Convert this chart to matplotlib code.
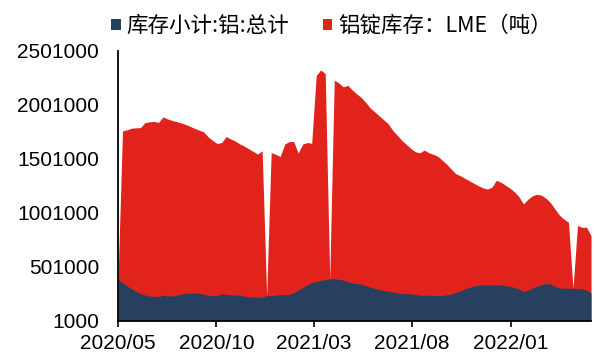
import numpy as np
import pandas as pd
import matplotlib
matplotlib.use("Agg")
import matplotlib.pyplot as plt
from matplotlib.patches import Patch
from matplotlib.font_manager import FontProperties

# Weekly observations
dates = pd.date_range("2020-05-01", periods=106, freq="7D")

# 库存小计:铝:总计 (tonnes)
china_total = [
    381000, 353000, 320000, 297000, 270000, 251000, 237000, 228000, 226000, 223000,
    237000, 228000, 228000, 237000, 246000, 253000, 254000, 256000, 254000, 246000,
    234000, 232000, 232000, 248000, 244000, 240000, 237000, 237000, 228000, 220000,
    217000, 217000, 217000, 232000, 231000, 237000, 239000, 242000, 242000, 260000,
    283000, 307000, 334000, 353000, 362000, 373000, 381000, 387000, 390000, 382000,
    376000, 362000, 348000, 344000, 339000, 325000, 311000, 297000, 288000, 279000,
    274000, 265000, 256000, 251000, 249000, 248000, 242000, 237000, 234000, 237000,
    232000, 232000, 234000, 239000, 248000, 260000, 276000, 295000, 308000, 320000,
    327000, 334000, 332000, 332000, 332000, 330000, 325000, 318000, 307000, 293000,
    270000, 283000, 302000, 320000, 334000, 344000, 339000, 316000, 302000, 302000,
    300000, 299000, 297000, 295000, 283000, 256000,
]

# 铝锭库存：LME (tonnes); NaN where no value was published
nan = float("nan")
lme_stock = [
    nan, 1407000, 1450000, 1488000, 1518000, 1540000, 1600000, 1616000, 1622000, 1616000,
    1653000, 1643000, 1629000, 1609000, 1588000, 1567000, 1548000, 1527000, 1513000, 1505000,
    1471000, 1440000, 1411000, 1404000, 1463000, 1446000, 1429000, 1403000, 1391000, 1374000,
    1353000, 1328000, 1358000, nan, 1328000, 1306000, 1283000, 1395000, 1419000, 1401000,
    1271000, 1330000, 1318000, 1292000, 1912000, 1952000, 1910000, nan, 1840000, 1823000,
    1792000, 1821000, 1792000, 1759000, 1731000, 1699000, 1662000, 1639000, 1611000, 1583000,
    1551000, 1500000, 1463000, 1421000, 1386000, 1350000, 1324000, 1320000, 1348000, 1320000,
    1311000, 1292000, 1253000, 1211000, 1156000, 1102000, 1068000, 1025000, 989000, 954000,
    924000, 898000, 888000, 905000, 970000, 953000, 931000, 910000, 888000, 856000,
    812000, 843000, 856000, 852000, 829000, 791000, 755000, 719000, 676000, 639000,
    613000, nan, 584000, 570000, 584000, 532000,
]

series_labels = ["库存小计:铝:总计", "铝锭库存：LME（吨）"]
y_ticks = [1000, 501000, 1001000, 1501000, 2001000, 2501000]
x_ticks = ["2020-05-01", "2020-10-01", "2021-03-01", "2021-08-01", "2022-01-01"]

navy = "#27405F"
red = "#E2231B"

latin = ["Liberation Sans", "DejaVu Sans"]
cjk = ["Noto Sans CJK SC", "DejaVu Sans"]

bottom = np.array(china_total, dtype=float)
top = bottom + np.nan_to_num(np.array(lme_stock, dtype=float))

fig = plt.figure(figsize=(5.94, 3.56), dpi=100)
ax = fig.add_axes([118 / 594, (356 - 320.5) / 356, (591 - 118) / 594, (320.5 - 51) / 356])

ax.fill_between(dates, 0, top, color=red, linewidth=0)
ax.fill_between(dates, 0, bottom, color=navy, linewidth=0)

ax.set_xlim(dates[0], dates[-1])
ax.set_ylim(y_ticks[0], y_ticks[-1])

ax.set_yticks(y_ticks)
ax.set_yticklabels([str(v) for v in y_ticks], fontfamily=latin, fontsize=15)
xt = pd.to_datetime(x_ticks)
ax.set_xticks(xt)
ax.set_xticklabels([d.strftime("%Y/%m") for d in xt], fontfamily=latin, fontsize=15)

ax.tick_params(axis="y", length=0, pad=13.5, colors="black")
ax.tick_params(axis="x", direction="out", length=4, width=1.2, pad=6, colors="black")

for side in ("top", "right"):
    ax.spines[side].set_visible(False)
for side in ("left", "bottom"):
    ax.spines[side].set_linewidth(1.3)
    ax.spines[side].set_color("black")

handles = [Patch(facecolor=navy, edgecolor="none"), Patch(facecolor=red, edgecolor="none")]
fig.legend(handles, series_labels, ncol=2, loc="center",
           bbox_to_anchor=(0.558, 0.927), frameon=False,
           handlelength=0.43, handleheight=0.43, handletextpad=0.25,
           columnspacing=1.6, borderaxespad=0, borderpad=0,
           prop=FontProperties(family=cjk, size=15.5))

fig.savefig("out.png", dpi=100)
